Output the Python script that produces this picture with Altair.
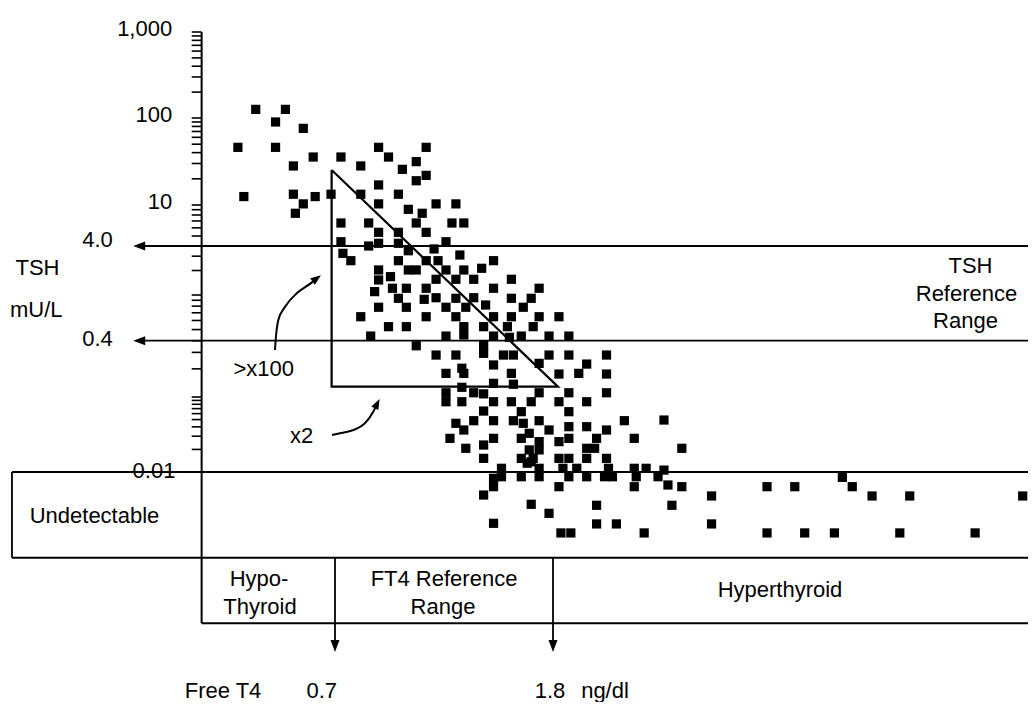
import altair as alt
import pandas as pd

FONT = "Liberation Sans"

# ---- data: Free T4 (ng/dl) and TSH (mU/L) ----
ft4 = [
    0.30, 0.45, 0.40, 0.54, 0.21, 0.40, 0.92, 1.16, 0.59, 0.73,
    0.97, 1.11, 0.49, 0.83, 1.04, 1.16, 1.11, 0.92, 0.24, 0.49,
    0.60, 0.68, 0.83, 1.02, 0.54, 0.92, 1.21, 1.31, 0.50, 1.07,
    1.14, 0.73, 0.87, 1.11, 1.29, 1.35, 0.92, 1.02, 1.16, 0.73,
    0.92, 0.87, 1.02, 1.07, 1.26, 1.20, 0.74, 0.78, 1.02, 1.16,
    1.22, 1.33, 1.50, 0.92, 0.92, 1.07, 1.11, 1.26, 1.35, 1.44,
    0.98, 1.21, 1.31, 1.40, 1.59, 0.90, 0.99, 1.06, 1.02, 1.16,
    1.15, 1.21, 1.31, 1.40, 1.50, 1.59, 1.73, 1.69, 0.92, 1.06,
    1.26, 1.36, 1.46, 1.65, 0.83, 1.16, 1.31, 1.50, 1.59, 1.73,
    1.83, 0.97, 1.06, 1.35, 1.35, 1.45, 1.57, 1.70, 0.88, 1.26,
    1.50, 1.58, 1.64, 1.78, 1.88, 1.11, 1.45, 1.45, 1.21, 1.31,
    1.55, 1.60, 1.78, 1.88, 2.07, 1.50, 1.73, 1.97, 1.34, 1.35,
    1.26, 1.59, 1.83, 1.93, 2.07, 1.50, 1.60, 1.34, 1.73, 1.88,
    2.07, 1.26, 1.26, 1.40, 1.45, 1.34, 1.50, 1.59, 1.69, 1.83,
    1.97, 1.45, 1.64, 1.88, 1.31, 1.35, 1.40, 1.50, 1.60, 1.65,
    1.73, 1.78, 1.88, 1.97, 2.07, 2.16, 1.28, 1.36, 1.45, 1.50,
    1.64, 1.68, 1.73, 1.83, 1.88, 2.02, 2.21, 1.97, 2.01, 1.68,
    1.73, 1.70, 1.64, 1.83, 1.88, 1.97, 1.45, 2.07, 1.54, 1.50,
    1.50, 1.45, 1.64, 1.69, 1.73, 1.73, 1.67, 1.85, 1.88, 1.83,
    1.92, 1.97, 2.08, 2.10, 2.21, 2.21, 2.27, 2.33, 2.06, 1.54,
    2.36, 2.45, 2.36, 2.38, 2.45, 2.60, 2.88, 3.02, 3.26, 3.31,
    3.41, 3.60, 4.17, 2.40, 2.60, 2.88, 3.07, 3.22, 3.55, 3.93,
    2.02, 2.02, 2.12, 2.26, 1.89, 1.84, 1.69, 1.78, 1.50, 2.22,
]
tsh = [
    126, 126, 90, 76, 46, 46, 46, 46, 35.6, 35.6,
    35.6, 31.5, 28.1, 28.1, 25.7, 21.9, 19.0, 17.0, 12.5, 13.3,
    12.5, 13.3, 13.3, 13.3, 10.3, 10.3, 10.3, 10.3, 8.31, 9.08,
    8.31, 6.69, 6.69, 6.69, 6.69, 6.69, 5.43, 5.43, 5.43, 4.40,
    4.25, 4.0, 4.25, 3.50, 4.40, 3.68, 3.25, 2.64, 2.64, 2.64,
    2.64, 3.10, 2.64, 2.03, 1.53, 2.03, 2.03, 2.03, 2.03, 2.13,
    1.68, 1.56, 1.56, 1.56, 1.56, 1.10, 1.21, 1.21, 0.936, 1.21,
    0.917, 0.947, 0.936, 0.947, 1.21, 0.936, 1.21, 0.936, 0.782, 0.782,
    0.782, 0.782, 0.818, 0.782, 0.647, 0.647, 0.647, 0.647, 0.647, 0.647,
    0.647, 0.530, 0.530, 0.530, 0.449, 0.530, 0.530, 0.530, 0.439, 0.439,
    0.439, 0.428, 0.439, 0.439, 0.439, 0.353, 0.360, 0.293, 0.281, 0.281,
    0.281, 0.281, 0.281, 0.281, 0.281, 0.220, 0.229, 0.225, 0.203, 0.179,
    0.179, 0.179, 0.176, 0.179, 0.176, 0.140, 0.137, 0.127, 0.111, 0.111,
    0.111, 0.111, 0.0865, 0.111, 0.108, 0.0865, 0.0865, 0.0865, 0.0865, 0.0865,
    0.0865, 0.0650, 0.0637, 0.0637, 0.0446, 0.0363, 0.0483, 0.0483, 0.0483, 0.0446,
    0.0483, 0.0363, 0.0402, 0.0402, 0.0363, 0.0483, 0.0281, 0.0207, 0.0229, 0.0281,
    0.0281, 0.0328, 0.0254, 0.0254, 0.0281, 0.0281, 0.0281, 0.0207, 0.0207, 0.0197,
    0.0197, 0.0152, 0.0152, 0.0152, 0.0152, 0.0152, 0.0152, 0.0152, 0.0112, 0.00824,
    0.00637, 0.00493, 0.00865, 0.0137, 0.0112, 0.00865, 0.0131, 0.0112, 0.00865, 0.00637,
    0.0112, 0.00865, 0.0112, 0.00865, 0.0112, 0.00637, 0.0112, 0.00865, 0.00865, 0.00865,
    0.0493, 0.0207, 0.0106, 0.00671, 0.00637, 0.00479, 0.00637, 0.00637, 0.00849, 0.00637,
    0.00479, 0.00479, 0.00479, 0.00360, 0.00203, 0.00154, 0.00154, 0.00154, 0.00154, 0.00154,
    0.00360, 0.00203, 0.00203, 0.00154, 0.00154, 0.00154, 0.00371, 0.00281, 0.00207, 0.00865,
]

# ---- axis ticks and labels ----
y_ticks = [0.01, 0.02, 0.03, 0.04, 0.05, 0.06, 0.07, 0.08, 0.09,
           0.1, 0.2, 0.3, 0.4, 0.5, 0.6, 0.7, 0.8, 0.9,
           1, 2, 3, 4, 5, 6, 7, 8, 9,
           10, 20, 30, 40, 50, 60, 70, 80, 90,
           100, 200, 300, 400, 500, 600, 700, 800, 900, 1000]
y_label_values = [1000, 100, 10]
y_label_text = ["1,000", "100", "10"]

# reference values
tsh_ref = [4.0, 0.4]
tsh_undetectable = 0.01
ft4_ref = [0.7, 1.8]

df = pd.DataFrame({"ft4": ft4, "tsh": tsh})

xs = alt.Scale(domain=[0.7, 1.8], range=[327, 545], zero=False, nice=False)
ys = alt.Scale(type="log",
               domain=[0.001, 0.01, 0.1, 0.4, 1, 4, 10, 100, 1000],
               range=[539, 464, 389, 332.7, 287, 238, 197, 110, 24],
               nice=False)

X = lambda f: alt.X(f, type="quantitative", scale=xs, axis=None)
Y = lambda f: alt.Y(f, type="quantitative", scale=ys, axis=None)

AXIS_X = 0.027      # FT4 position where the TSH axis is drawn
AXIS_PX = 193.7     # same position in view pixels (for tick marks)
LEFT_X = -0.93      # left edge of the "Undetectable" box
RIGHT_X = 4.3
TABLE_TOP = 549.7
TABLE_BOTTOM = 615.3
ARROW = "M0,-1L0.75,1L-0.75,1Z"

layers = []

# TSH reference range lines and the detection limit line
hl = pd.DataFrame({"y": tsh_ref + [tsh_undetectable],
                   "x": [-0.30, -0.30, LEFT_X], "x2": [RIGHT_X] * 3})
layers.append(alt.Chart(hl).mark_rule(color="black", strokeWidth=1.8).encode(
    x=X("x"), x2="x2:Q", y=Y("y")))

# left side of Undetectable box
layers.append(alt.Chart(pd.DataFrame({"x": [LEFT_X], "y": [tsh_undetectable]}))
              .mark_rule(color="black", strokeWidth=1.8)
              .encode(x=X("x"), y=Y("y"), y2=alt.value(TABLE_TOP)))

# vertical axis line
layers.append(alt.Chart(pd.DataFrame({"x": [AXIS_X], "y": [1000]}))
              .mark_rule(color="black", strokeWidth=2)
              .encode(x=X("x"), y=Y("y"), y2=alt.value(TABLE_BOTTOM)))

# axis tick marks (log minor ticks) and decade labels
layers.append(alt.Chart(pd.DataFrame({"v": y_ticks}))
              .mark_rule(color="black", strokeWidth=1.6)
              .encode(y=Y("v"), x=alt.value(AXIS_PX - 10), x2=alt.value(AXIS_PX)))
layers.append(alt.Chart(pd.DataFrame({"v": y_label_values, "t": y_label_text}))
              .mark_text(font=FONT, fontSize=22, color="black", align="right",
                         baseline="alphabetic", dy=4)
              .encode(y=Y("v"), x=alt.value(AXIS_PX - 29.5), text="t:N"))

# table lines
layers.append(alt.Chart(pd.DataFrame({"x": [LEFT_X], "x2": [RIGHT_X]}))
              .mark_rule(color="black", strokeWidth=2)
              .encode(x=X("x"), x2="x2:Q", y=alt.value(TABLE_TOP)))
layers.append(alt.Chart(pd.DataFrame({"x": [AXIS_X], "x2": [RIGHT_X]}))
              .mark_rule(color="black", strokeWidth=2)
              .encode(x=X("x"), x2="x2:Q", y=alt.value(TABLE_BOTTOM)))

# FT4 reference verticals with arrows down
vdf = pd.DataFrame({"x": ft4_ref})
layers.append(alt.Chart(vdf).mark_rule(color="black", strokeWidth=1.8)
              .encode(x=X("x"), y=alt.value(TABLE_TOP), y2=alt.value(640)))
layers.append(alt.Chart(vdf).mark_point(shape=ARROW, size=144, filled=True, color="black",
                                        opacity=1, angle=180, strokeWidth=0)
              .encode(x=X("x"), y=alt.value(638)))

# left arrowheads on TSH reference lines
layers.append(alt.Chart(pd.DataFrame({"x": [-0.288, -0.288], "y": tsh_ref}))
              .mark_point(shape=ARROW, size=144, filled=True, color="black",
                          opacity=1, angle=270, strokeWidth=0)
              .encode(x=X("x"), y=Y("y")))

# triangle
tri = pd.DataFrame({"x": [0.683, 0.683, 1.825, 0.683],
                    "y": [25.2, 0.129, 0.129, 25.2], "o": [0, 1, 2, 3]})
layers.append(alt.Chart(tri).mark_line(color="black", strokeWidth=2.2)
              .encode(x=X("x"), y=Y("y"), order="o:Q"))

# curved arrows
c1 = pd.DataFrame({"x": [0.397, 0.402, 0.414, 0.448, 0.507, 0.582, 0.608],
                   "y": [0.318, 0.433, 0.606, 0.791, 1.05, 1.42, 1.60],
                   "o": list(range(7))})
c2 = pd.DataFrame({"x": [0.685, 0.725, 0.793, 0.851, 0.893, 0.913],
                   "y": [0.0311, 0.0328, 0.0363, 0.0446, 0.0637, 0.0817],
                   "o": list(range(6))})
for c, (hx, hy, ang) in ((c1, (0.608, 1.60, 54)), (c2, (0.913, 0.0817, 27))):
    layers.append(alt.Chart(c).mark_line(color="black", strokeWidth=2, interpolate="monotone")
                  .encode(x=X("x"), y=Y("y"), order="o:Q"))
    layers.append(alt.Chart(pd.DataFrame({"x": [hx], "y": [hy]}))
                  .mark_point(shape=ARROW, size=110, filled=True, color="black",
                              opacity=1, angle=ang, strokeWidth=0)
                  .encode(x=X("x"), y=Y("y")))

# data points
layers.append(alt.Chart(df).mark_square(size=85, color="black", opacity=1).encode(
    x=X("ft4"), y=Y("tsh")))

# text annotations (pixel positions within the view)
texts = [
    ("TSH", 29.5, 267), ("mU/L", 28.3, 308.7), ("4.0", 89.5, 238.7), ("0.4", 89.5, 337.7),
    ("0.01", 146, 470.3), ("Undetectable", 86.5, 515), (">x100", 255.7, 368),
    ("x2", 293.7, 435.3), ("Hypo-", 251, 578), ("Thyroid", 252, 606),
    ("FT4 Reference", 436, 578), ("Range", 435, 606), ("Hyperthyroid", 772, 589.3),
    ("TSH", 962.5, 265.3), ("Reference", 958.5, 292.7), ("Range", 957.5, 320),
    ("Free T4", 215, 690), ("0.7", 313.7, 690), ("1.8", 542, 690), ("ng/dl", 597, 690),
]
for s, tx, ty in texts:
    layers.append(alt.Chart(pd.DataFrame({"t": [s]}))
                  .mark_text(font=FONT, fontSize=22, color="black", align="center",
                             baseline="alphabetic")
                  .encode(text="t:N", x=alt.value(tx), y=alt.value(ty)))

chart = alt.layer(*layers).properties(
    width=1020, height=694,
    autosize=alt.AutoSizeParams(type="none"),
    padding={"left": 0, "top": 0, "right": 0, "bottom": 0},
).configure_view(strokeWidth=0)

chart.save("out.html", embed_options={"renderer": "svg", "actions": False})
